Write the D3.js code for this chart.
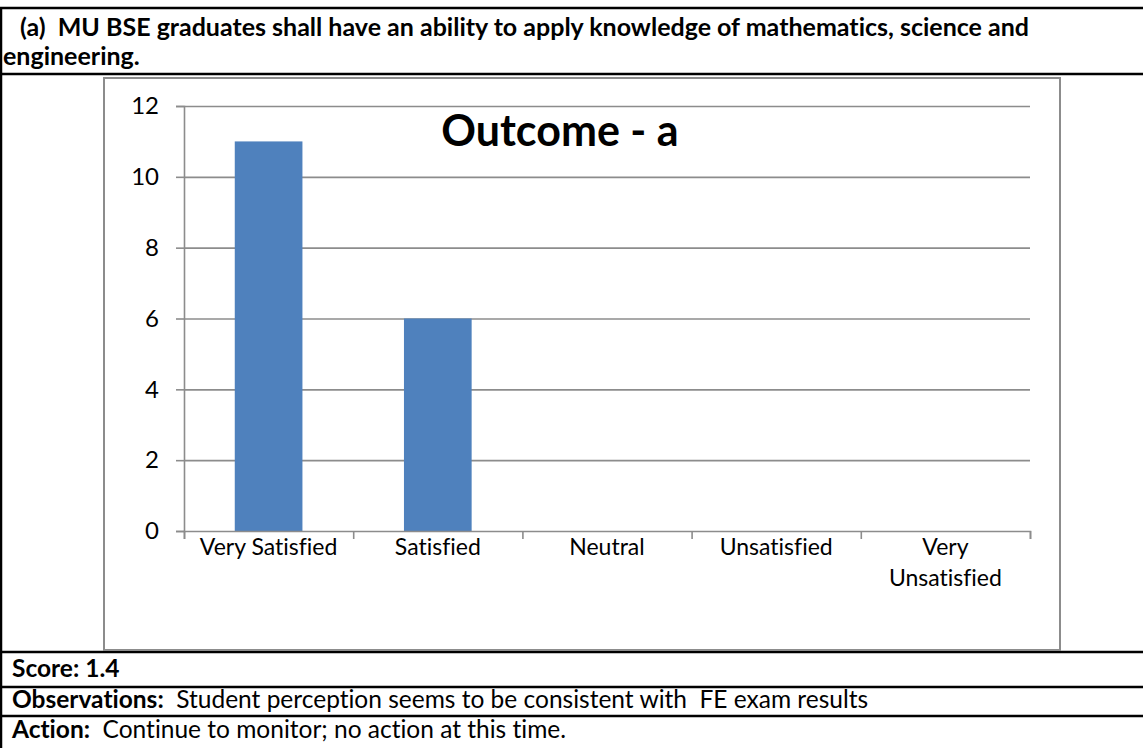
<!DOCTYPE html>
<html>
<head>
<meta charset="utf-8">
<script src="https://cdn.jsdelivr.net/npm/d3@7"></script>
<style>
  body { margin: 0; background: #fff; }
  svg { display: block; font-family: Lato, "Noto Sans", sans-serif; font-variant-ligatures: none; }
</style>
</head>
<body>
<div id="chart"></div>
<script>
// chart data
const categories = ["Very Satisfied", "Satisfied", "Neutral", "Unsatisfied", "Very Unsatisfied"];
const categoryLines = [["Very Satisfied"], ["Satisfied"], ["Neutral"], ["Unsatisfied"], ["Very", "Unsatisfied"]];
const counts = [11, 6, 0, 0, 0];
const yTicks = [0, 2, 4, 6, 8, 10, 12];
const chartTitle = "Outcome - a";
const headerLines = ["(a)  MU BSE graduates shall have an ability to apply knowledge of mathematics, science and", "engineering."];
const scoreText = "Score: 1.4";
const observation = ["Observations:", "  Student perception seems to be consistent with  FE exam results"];
const action = ["Action:", "  Continue to monitor; no action at this time."];

const W = 1143, H = 748;
const plot = { left: 184, right: 1030, top: 106, bottom: 531 };
const grey = "#8c8c8c";

const svg = d3.select("#chart")
  .append("svg")
  .attr("width", W)
  .attr("height", H);

// table rules (the document table around the chart)
const rows = [8, 74, 652, 687, 716];
svg.append("g")
  .selectAll("line")
  .data(rows)
  .join("line")
  .attr("x1", 0).attr("x2", W)
  .attr("y1", d => d).attr("y2", d => d)
  .attr("stroke", "#000")
  .attr("stroke-width", 2.5);
svg.append("line")
  .attr("x1", 1).attr("x2", 1)
  .attr("y1", 8).attr("y2", H)
  .attr("stroke", "#000")
  .attr("stroke-width", 2.5);

// header text
svg.append("g")
  .selectAll("text")
  .data(headerLines)
  .join("text")
  .attr("x", (d, i) => i === 0 ? 14 : 3)
  .attr("y", (d, i) => 36 + i * 29)
  .attr("font-weight", "bold")
  .attr("font-size", 25)
  .attr("xml:space", "preserve")
  .style("white-space", "pre")
  .text((d, i) => i === 0 ? " " + d : d);

// chart frame
svg.append("rect")
  .attr("x", 104).attr("y", 78)
  .attr("width", 1060 - 104).attr("height", 650 - 78)
  .attr("fill", "#fff")
  .attr("stroke", grey)
  .attr("stroke-width", 2);

// scales
const x = d3.scaleBand()
  .domain(categories)
  .range([plot.left, plot.right])
  .paddingInner(0.6)
  .paddingOuter(0.3);

const xEdge = d3.scaleLinear()
  .domain([0, categories.length])
  .range([plot.left, plot.right]);

const y = d3.scaleLinear()
  .domain([0, 12])
  .range([plot.bottom, plot.top]);

// gridlines
const grid = svg.append("g")
  .attr("transform", `translate(${plot.left},0)`)
  .call(d3.axisLeft(y).tickValues(yTicks.slice(1)).tickSize(-(plot.right - plot.left)).tickFormat(""));
grid.select(".domain").remove();
grid.selectAll("line").attr("stroke", grey).attr("stroke-width", 1.6);

// bars
svg.append("g")
  .selectAll("rect")
  .data(categories)
  .join("rect")
  .attr("x", d => x(d))
  .attr("width", x.bandwidth())
  .attr("y", (d, i) => y(counts[i]))
  .attr("height", (d, i) => y(0) - y(counts[i]))
  .attr("fill", "#4f81bd");

// y axis
const yAxis = svg.append("g")
  .attr("transform", `translate(${plot.left},0)`)
  .call(d3.axisLeft(y).tickValues(yTicks).tickSize(8).tickPadding(17));
yAxis.select(".domain").attr("stroke", grey).attr("stroke-width", 1.6);
yAxis.selectAll("line").attr("stroke", grey).attr("stroke-width", 1.6);
yAxis.selectAll("text")
  .attr("font-family", "Lato, sans-serif")
  .attr("font-size", 24)
  .attr("fill", "#000");

// x axis (ticks at category boundaries)
const xAxis = svg.append("g")
  .attr("transform", `translate(0,${plot.bottom})`)
  .call(d3.axisBottom(xEdge).tickValues(d3.range(categories.length + 1)).tickSize(8).tickFormat(""));
xAxis.select(".domain").attr("stroke", grey).attr("stroke-width", 1.6);
xAxis.selectAll("line").attr("stroke", grey).attr("stroke-width", 1.6);

// category labels
svg.append("g")
  .selectAll("text")
  .data(categories)
  .join("text")
  .attr("text-anchor", "middle")
  .attr("font-size", 23)
  .attr("x", d => x(d) + x.bandwidth() / 2)
  .attr("y", 555)
  .selectAll("tspan")
  .data((d, i) => categoryLines[i])
  .join("tspan")
  .attr("x", function () { return this.parentNode.getAttribute("x"); })
  .attr("dy", (d, i) => i === 0 ? 0 : 31)
  .text(d => d);

// chart title
svg.append("text")
  .attr("x", 560)
  .attr("y", 146)
  .attr("text-anchor", "middle")
  .attr("font-weight", "bold")
  .attr("font-size", 43)
  .text(chartTitle);

// score / observations / action rows
svg.append("text")
  .attr("x", 12).attr("y", 677)
  .attr("font-weight", "bold")
  .attr("font-size", 24.5)
  .text(scoreText);

[[observation, 708], [action, 738]].forEach(([parts, yy]) => {
  const t = svg.append("text")
    .attr("x", 12).attr("y", yy)
    .attr("font-size", 24.5)
    .attr("xml:space", "preserve")
    .style("white-space", "pre");
  t.append("tspan").attr("font-weight", "bold").text(parts[0]);
  t.append("tspan").text(parts[1]);
});
</script>
</body>
</html>
